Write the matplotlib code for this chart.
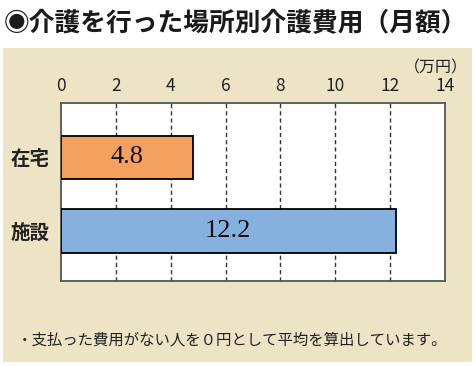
import matplotlib
matplotlib.use("Agg")
import matplotlib.pyplot as plt
from matplotlib.patches import Rectangle

plt.rcParams['font.family'] = ['Noto Sans CJK JP', 'DejaVu Sans']

categories = ["在宅", "施設"]
values = [4.8, 12.2]
value_labels = ["4.8", "12.2"]
colors = ["#F4A05E", "#86B1DF"]
xticks = [0, 2, 4, 6, 8, 10, 12, 14]
title = "◉介護を行った場所別介護費用（月額）"
unit = "（万円）"
note = "・支払った費用がない人を０円として平均を算出しています。"

W, H = 475, 366
fig = plt.figure(figsize=(W / 100, H / 100), dpi=100)
fig.patch.set_facecolor("white")

# beige panel
fig.patches.append(Rectangle((3 / W, 1 - 362 / H), 469 / W, 314 / H,
                             transform=fig.transFigure, facecolor="#EDE3C5",
                             edgecolor="none", zorder=-5))

ax = fig.add_axes([61 / W, 1 - 281 / H, 384 / W, 178 / H])
ax.set_zorder(2)
ax.set_facecolor("white")
ax.set_xlim(0, 14)
ax.set_ylim(1.68, -0.737)

ypos = list(range(len(categories)))
ax.barh(ypos, values, height=0.59, color=colors, edgecolor="black",
        linewidth=1.3, zorder=3)
for y, v, lab in zip(ypos, values, value_labels):
    ax.text(v / 2, y, lab, ha="center", va="center", fontsize=19,
            family="Liberation Serif", color="#111111", zorder=4)

for x in xticks[1:-1]:
    ax.axvline(x, color="#333333", linestyle=(0, (3, 2.2)), linewidth=1.0, zorder=2)

ax.xaxis.tick_top()
ax.set_xticks(xticks)
ax.set_xticklabels([str(t) for t in xticks], fontsize=12.5, color="#222222")
ax.tick_params(axis="x", length=0, pad=6)
ax.set_yticks(ypos)
ax.set_yticklabels(categories, fontsize=14, fontweight="bold", color="#222222")
ax.tick_params(axis="y", length=0, pad=8)
for s in ax.spines.values():
    s.set_color("#555555")
    s.set_linewidth(1.3)

fig.text(4 / W, 1 - 24 / H, title, fontsize=18.5, fontweight="bold",
         ha="left", va="center", color="#1a1a1a")
fig.text(468 / W, 1 - 68 / H, unit, fontsize=11.5, ha="right", va="center",
         color="#222222")
fig.text(17 / W, 1 - 340 / H, note, fontsize=11.1, ha="left", va="center",
         color="#222222")

fig.savefig("out.png", dpi=100, facecolor=fig.get_facecolor())
